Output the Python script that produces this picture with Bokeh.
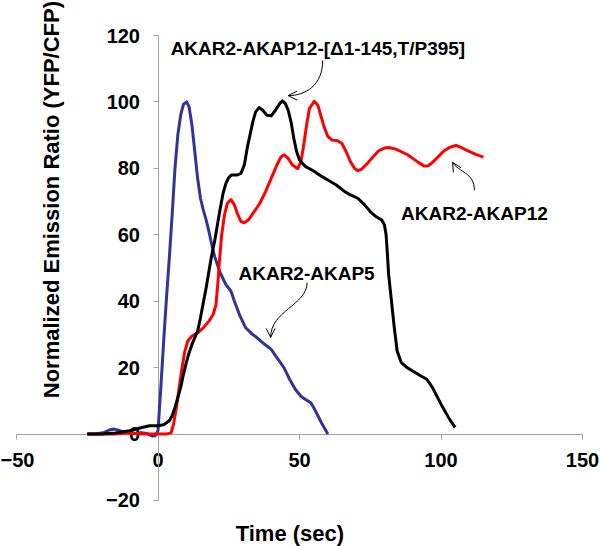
from bokeh.plotting import figure
from bokeh.models import FixedTicker, Label, Arrow, OpenHead, Range1d
from bokeh.embed import file_html
from bokeh.resources import INLINE
import math

# ---- data ----
blue_x = [-25, -22, -19, -17, -15.5, -14, -12, -10, -8, -6, -4, -2, -1, 0, 1, 2, 3, 4, 5, 6,
          7, 8, 9, 10.1, 11, 12, 13, 14, 15, 16, 17, 18, 19, 20, 22, 24, 25.8, 27, 29, 31,
          33, 35, 37, 40, 42, 44.5, 46.5, 48.5, 50.5, 52, 54, 55, 56.5, 58, 60]
blue_y = [0, 0, 0.5, 1.3, 1.5, 1.2, 0.6, 0.3, 0.2, 0.4, 0.2, -0.6, -0.5, 1, 14, 28, 41, 53, 66, 80,
          90, 96, 99.3, 100, 98.5, 93, 85, 77, 71, 67.5, 64.5, 61, 57, 53.5, 48.5, 45, 43, 40, 35.5, 32,
          30.3, 29, 27.5, 25.5, 23, 20, 16.5, 13.5, 11.4, 10.5, 9.4, 8, 5.5, 3, 0]

red_x = [-25, -15, -10, -5, 0, 3, 4.6, 5.5, 6.5, 7.5, 8.5, 9.5, 10.5, 12, 14, 16, 18, 19.5, 20.5, 21.2,
         21.7, 22.5, 23.5, 24.5, 25.8, 27, 28, 29.3, 30.5, 32, 34, 36, 38, 40, 42, 43.5, 44.6, 46, 47.5, 49.4,
         50.5, 51.5, 52.5, 53.5, 55.2, 56.5, 57.5, 58.5, 60, 61.5, 63.5, 65, 66.5, 68, 69.5, 70.6, 72, 74, 76, 78,
         80, 81.5, 84, 86, 88.2, 90, 92, 94, 95.5, 97, 99, 101, 103, 105.3, 107, 109, 111, 113, 115]
red_y = [0, 0, 0.3, 0, 0, 0, 0.4, 3, 8, 14, 20, 25, 28, 29.5, 30.5, 32, 34, 36, 39, 46,
         52, 60, 66, 69.5, 70.6, 69, 66.5, 64, 63.6, 64.5, 67, 69.5, 73, 77, 81, 83.5, 84.1, 83, 81, 79.9,
         82, 87, 93, 98, 100.2, 99, 96, 93, 89.6, 88.5, 88.3, 87.5, 85, 82, 80, 79.3, 79.8, 81.5, 83.5, 85.3,
         86.1, 86.3, 85.8, 85, 84.1, 83, 81.8, 80.7, 80.8, 81.8, 83.5, 85.2, 86.3, 86.9, 86.3, 85.5, 84.7, 84, 83.4]

black_x = [-25, -20, -15, -10, -6, -3, 0, 2, 4, 5, 6, 7, 8, 9, 10, 11, 12, 13, 14, 15,
           16, 17, 18, 19, 20, 21, 22, 23, 24, 25, 26, 28, 29.3, 30.5, 31.5, 32.5, 33.5, 34.5, 35.8, 37,
           38.5, 40, 41.5, 43, 44, 45, 46, 47, 48, 49, 50, 52, 55, 58, 60, 63, 66, 68, 70.6, 73,
           75, 77, 79, 80, 80.6, 81, 81.5, 82.5, 83.5, 84.5, 86, 88, 90, 92.9, 95, 97, 100, 103, 105]
black_y = [0, 0, 0.3, 1, 1.9, 2.5, 2.5, 2.8, 4, 5.5, 8, 11, 14, 18, 21.5, 24.5, 27, 29, 31, 35,
           39.5, 44, 49, 54, 58, 63, 68, 72.5, 75.5, 77.3, 78, 78, 78.5, 81, 86, 90, 94, 97, 98.3, 97.5,
           96, 95.8, 97.5, 99.5, 100.3, 99.5, 97.5, 94, 89, 85, 82.5, 80.6, 79.2, 77.5, 76.5, 75, 73, 72, 71, 69,
           67, 65.5, 64.5, 63, 60, 55, 48, 40, 32, 25, 21.5, 20, 19, 17.5, 16.5, 14, 9, 4.5, 2]

x_ticks = [-50, 0, 50, 100, 150]
y_ticks = [-20, 0, 20, 40, 60, 80, 100, 120]

series_names = ["AKAR2-AKAP5", "AKAR2-AKAP12", "AKAR2-AKAP12-[\u03941-145,T/P395]"]
x_title = "Time (sec)"
y_title = "Normalized Emission Ratio (YFP/CFP)"

FONT = "Liberation Sans"
AXIS_COLOR = "#a0a0a0"

# The frame fills the whole canvas; the axes are bounded to the data extent.
p = figure(width=600, height=546,
           x_range=Range1d(-55.654, 156.36), y_range=Range1d(-33.85, 130.54),
           output_backend="svg", toolbar_location=None,
           min_border_left=0, min_border_right=0, min_border_top=0, min_border_bottom=0)
p.outline_line_color = None
p.grid.visible = False
p.background_fill_color = "white"
p.border_fill_color = "white"

for ax, ticks, standoff in ((p.xaxis, x_ticks, 14), (p.yaxis, y_ticks, 13)):
    ax.fixed_location = 0
    ax.ticker = FixedTicker(ticks=ticks)
    ax.bounds = (ticks[0], ticks[-1])
    ax.minor_tick_line_color = None
    ax.major_tick_in = 0
    ax.major_tick_out = 5
    ax.axis_line_color = AXIS_COLOR
    ax.major_tick_line_color = AXIS_COLOR
    ax.axis_line_width = 1
    ax.major_label_text_font = FONT
    ax.major_label_text_font_style = "bold"
    ax.major_label_text_font_size = "20px"
    ax.major_label_text_color = "black"
    ax.major_label_standoff = standoff
    ax.level = "underlay"

p.line(blue_x, blue_y, line_color="#333399", line_width=3, line_join="round")
p.line(red_x, red_y, line_color="#ff0000", line_width=3, line_join="round")
p.line(black_x, black_y, line_color="black", line_width=3, line_join="round")

def add_label(text, x, y, size="19px", angle=0.0, align="center", baseline="alphabetic"):
    p.add_layout(Label(x=x, y=y, text=text, text_font=FONT, text_font_style="bold",
                       text_font_size=size, text_color="black", angle=angle,
                       text_align=align, text_baseline=baseline))

# series annotations
add_label(series_names[2], 56.5, 116.0)
add_label(series_names[1], 111.8, 66.4)
add_label(series_names[0], 52.5, 48.4)

# axis titles
add_label(x_title, 46.6, -30.0, size="22px")
add_label(y_title, -37.6, 70.6, size="22px", angle=math.pi / 2, baseline="middle")

# curved pointer arrows (x0, y0, cx0, cy0, cx1, cy1, x1, y1)
pointers = [
    (58.2, 112.5, 58.2, 105.0, 52.1, 101.9, 46.0, 101.9),
    (111.8, 73.4, 111.8, 78.8, 106.2, 78.8, 104.1, 81.8),
    (52.7, 45.6, 52.5, 38.7, 39.8, 37.2, 39.8, 29.1),
]
for (x0, y0, cx0, cy0, cx1, cy1, x1, y1) in pointers:
    p.bezier(x0=[x0], y0=[y0], cx0=[cx0], cy0=[cy0], cx1=[cx1], cy1=[cy1], x1=[x1], y1=[y1],
             line_color="black", line_width=1)
    dx, dy = x1 - cx1, y1 - cy1
    n = math.hypot(dx, dy)
    p.add_layout(Arrow(end=OpenHead(size=9, line_width=1, line_color="black"),
                       x_start=x1 - 0.05 * dx / n, y_start=y1 - 0.05 * dy / n,
                       x_end=x1, y_end=y1, line_width=1, line_color="black"))

open("out.html", "w").write(file_html(p, INLINE))
